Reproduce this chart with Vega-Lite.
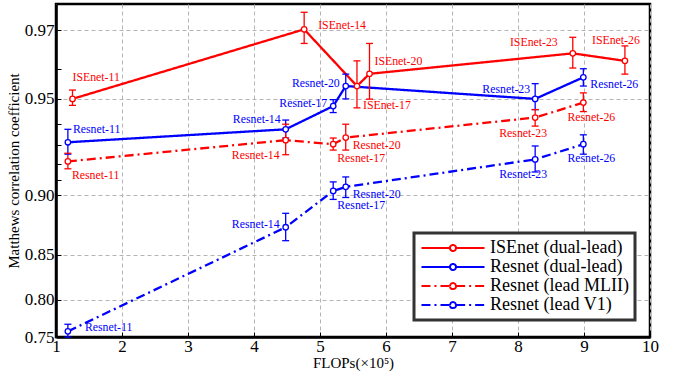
{
  "$schema": "https://vega.github.io/schema/vega-lite/v6.json",
  "width": 594,
  "height": 333,
  "autosize": "none",
  "padding": {"left": 56, "top": 4, "right": 30, "bottom": 38},
  "background": "white",
  "config": {
    "view": {"stroke": "black", "strokeWidth": 2.5},
    "font": "Liberation Serif, Times New Roman, serif",
    "axis": {
      "domainColor": "black", "domainWidth": 2.5,
      "tickColor": "black", "tickSize": -5, "tickWidth": 1,
      "labelFont": "Liberation Serif, Times New Roman, serif", "labelFontSize": 17, "labelColor": "black",
      "titleFont": "Liberation Serif, Times New Roman, serif", "titleFontSize": 15, "titleFontWeight": "normal", "titleColor": "black",
      "gridColor": "#b4b4b4", "gridDash": [4, 3], "gridWidth": 1
    },
    "text": {"font": "Liberation Serif, Times New Roman, serif", "fontSize": 11.8, "baseline": "middle"},
    "legend": {"strokeWidth": 3, "symbolFillColor": "white"}
  },
  "data": {"values": [
    {"series": "ISEnet (dual-lead)", "model": "ISEnet-11", "flops": 1.25, "mcc": 0.950, "lo": 0.9474, "hi": 0.9531},
    {"series": "ISEnet (dual-lead)", "model": "ISEnet-14", "flops": 4.76, "mcc": 0.9702, "lo": 0.9668, "hi": 0.9737},
    {"series": "ISEnet (dual-lead)", "model": "ISEnet-17", "flops": 5.56, "mcc": 0.9545, "lo": 0.9464, "hi": 0.9622},
    {"series": "ISEnet (dual-lead)", "model": "ISEnet-20", "flops": 5.75, "mcc": 0.9584, "lo": 0.9499, "hi": 0.9668},
    {"series": "ISEnet (dual-lead)", "model": "ISEnet-23", "flops": 8.83, "mcc": 0.9643, "lo": 0.9602, "hi": 0.9683},
    {"series": "ISEnet (dual-lead)", "model": "ISEnet-26", "flops": 9.62, "mcc": 0.9622, "lo": 0.9583, "hi": 0.9662},
    {"series": "Resnet (dual-lead)", "model": "Resnet-11", "flops": 1.18, "mcc": 0.9313, "lo": 0.9251, "hi": 0.9374},
    {"series": "Resnet (dual-lead)", "model": "Resnet-14", "flops": 4.48, "mcc": 0.9374, "lo": 0.9333, "hi": 0.9415},
    {"series": "Resnet (dual-lead)", "model": "Resnet-17", "flops": 5.20, "mcc": 0.9471, "lo": 0.9445, "hi": 0.9497},
    {"series": "Resnet (dual-lead)", "model": "Resnet-20", "flops": 5.39, "mcc": 0.9545, "lo": 0.9500, "hi": 0.9583},
    {"series": "Resnet (dual-lead)", "model": "Resnet-23", "flops": 8.26, "mcc": 0.9500, "lo": 0.9457, "hi": 0.9553},
    {"series": "Resnet (dual-lead)", "model": "Resnet-26", "flops": 8.99, "mcc": 0.9573, "lo": 0.9545, "hi": 0.9600},
    {"series": "Resnet (lead MLII)", "model": "Resnet-11", "flops": 1.18, "mcc": 0.9212, "lo": 0.9169, "hi": 0.9256},
    {"series": "Resnet (lead MLII)", "model": "Resnet-14", "flops": 4.48, "mcc": 0.9323, "lo": 0.9248, "hi": 0.9398},
    {"series": "Resnet (lead MLII)", "model": "Resnet-17", "flops": 5.20, "mcc": 0.9304, "lo": 0.9273, "hi": 0.9333},
    {"series": "Resnet (lead MLII)", "model": "Resnet-20", "flops": 5.39, "mcc": 0.9335, "lo": 0.9273, "hi": 0.9398},
    {"series": "Resnet (lead MLII)", "model": "Resnet-23", "flops": 8.26, "mcc": 0.9425, "lo": 0.9389, "hi": 0.9457},
    {"series": "Resnet (lead MLII)", "model": "Resnet-26", "flops": 8.99, "mcc": 0.9485, "lo": 0.9449, "hi": 0.9521},
    {"series": "Resnet (lead V1)", "model": "Resnet-11", "flops": 1.18, "mcc": 0.758, "lo": 0.7484, "hi": 0.768},
    {"series": "Resnet (lead V1)", "model": "Resnet-14", "flops": 4.48, "mcc": 0.8751, "lo": 0.8633, "hi": 0.8865},
    {"series": "Resnet (lead V1)", "model": "Resnet-17", "flops": 5.20, "mcc": 0.9029, "lo": 0.8970, "hi": 0.9089},
    {"series": "Resnet (lead V1)", "model": "Resnet-20", "flops": 5.39, "mcc": 0.9056, "lo": 0.8984, "hi": 0.9120},
    {"series": "Resnet (lead V1)", "model": "Resnet-23", "flops": 8.26, "mcc": 0.9223, "lo": 0.9150, "hi": 0.9295},
    {"series": "Resnet (lead V1)", "model": "Resnet-26", "flops": 8.99, "mcc": 0.9304, "lo": 0.9251, "hi": 0.9348}
  ]},
  "encoding": {
    "x": {
      "field": "flops", "type": "quantitative",
      "scale": {"domain": [1, 10], "nice": false, "zero": false},
      "axis": {"title": "FLOPs(×10⁵)", "values": [1, 2, 3, 4, 5, 6, 7, 8, 9, 10], "format": "d", "labelFlush": false, "labelOverlap": false, "labelPadding": 6, "titlePadding": 1}
    },
    "y": {
      "field": "mcc", "type": "quantitative",
      "title": "Matthews correlation coefficient",
      "scale": {
        "domain": [0.75, 0.77, 0.80, 0.82, 0.85, 0.87, 0.89, 0.90, 0.91, 0.92, 0.93, 0.94, 0.95, 0.955, 0.96, 0.965, 0.97, 0.9754],
        "range": [333, 318.85, 295.89, 279.12, 250.96, 229.49, 205.02, 191.28, 176.26, 159.66, 141.04, 119.78, 94.89, 80.61, 64.74, 46.85, 26.30, 0],
        "clamp": true, "nice": false, "zero": false
      },
      "axis": {
        "values": [0.75, 0.80, 0.85, 0.90, 0.91, 0.92, 0.93, 0.94, 0.95, 0.96, 0.97],
        "labelExpr": "(datum.value == 0.91 || datum.value == 0.92 || datum.value == 0.93 || datum.value == 0.94 || datum.value == 0.96) ? '' : format(datum.value, '.2f')",
        "gridOpacity": {"condition": {"test": "datum.value == 0.91 || datum.value == 0.92 || datum.value == 0.93 || datum.value == 0.94 || datum.value == 0.96", "value": 0}, "value": 1},
        "labelPadding": 7, "titlePadding": 3, "labelOverlap": false
      }
    },
    "color": {
      "field": "series", "type": "nominal",
      "scale": {"domain": ["ISEnet (dual-lead)", "Resnet (dual-lead)", "Resnet (lead MLII)", "Resnet (lead V1)"], "range": ["#ff0000", "#0000ff", "#ff0000", "#0000ff"]},
      "legend": null
    }
  },
  "layer": [
    {
      "mark": {"type": "line", "strokeWidth": 2.3},
      "encoding": {
        "color": null,
        "stroke": {
          "field": "series", "type": "nominal",
          "scale": {"domain": ["ISEnet (dual-lead)", "Resnet (dual-lead)", "Resnet (lead MLII)", "Resnet (lead V1)"], "range": ["#ff0000", "#0000ff", "#ff0000", "#0000ff"]},
          "legend": {
            "title": null, "orient": "none", "legendX": 358, "legendY": 229,
            "symbolType": "M-5,0H-0.5M0.5,0H5M0.5,0A0.5,0.5,0,1,1,-0.5,0A0.5,0.5,0,1,1,0.5,0ZM0.46,0A0.46,0.46,0,1,0,-0.46,0A0.46,0.46,0,1,0,0.46,0Z",
            "symbolSize": 159, "symbolStrokeWidth": 1.8, "symbolFillColor": "white",
            "symbolOffset": 24, "labelOffset": 28,
            "labelFont": "Liberation Serif, Times New Roman, serif", "labelFontSize": 18, "labelColor": "black",
            "padding": 6, "rowPadding": 1, "strokeColor": "#333333", "fillColor": "white"
          }
        },
        "strokeDash": {
          "field": "series", "type": "nominal",
          "scale": {"domain": ["ISEnet (dual-lead)", "Resnet (dual-lead)", "Resnet (lead MLII)", "Resnet (lead V1)"], "range": [[1, 0], [1, 0], [9, 4, 2, 4], [9, 4, 2, 4]]},
          "legend": {"title": null, "symbolFillColor": "white"}
        }
      }
    },
    {
      "mark": {"type": "rule", "strokeWidth": 1.3},
      "encoding": {
        "y": {"field": "lo", "type": "quantitative", "title": "Matthews correlation coefficient"},
        "y2": {"field": "hi"}
      }
    },
    {
      "mark": {"type": "point", "shape": "stroke", "filled": false, "size": 49, "strokeWidth": 1.3, "opacity": 1},
      "encoding": {
        "y": {"field": "lo", "type": "quantitative", "title": "Matthews correlation coefficient"}
      }
    },
    {
      "mark": {"type": "point", "shape": "stroke", "filled": false, "size": 49, "strokeWidth": 1.3, "opacity": 1},
      "encoding": {
        "y": {"field": "hi", "type": "quantitative", "title": "Matthews correlation coefficient"}
      }
    },
    {
      "mark": {"type": "point", "shape": "circle", "filled": false, "fill": "white", "fillOpacity": 1, "opacity": 1, "size": 30, "strokeWidth": 1.3}
    },
    {
      "encoding": {"text": {"field": "model"}},
      "layer": [
        {
          "transform": [{"filter": "indexof(['ISEnet (dual-lead)|ISEnet-11'], datum.series + '|' + datum.model) >= 0"}],
          "mark": {"type": "text", "align": "left", "dx": 0, "dy": -22}
        },
        {
          "transform": [{"filter": "indexof(['ISEnet (dual-lead)|ISEnet-14'], datum.series + '|' + datum.model) >= 0"}],
          "mark": {"type": "text", "align": "left", "dx": 14, "dy": -4}
        },
        {
          "transform": [{"filter": "indexof(['ISEnet (dual-lead)|ISEnet-17'], datum.series + '|' + datum.model) >= 0"}],
          "mark": {"type": "text", "align": "left", "dx": 6, "dy": 19}
        },
        {
          "transform": [{"filter": "indexof(['ISEnet (dual-lead)|ISEnet-20', 'Resnet (dual-lead)|Resnet-11'], datum.series + '|' + datum.model) >= 0"}],
          "mark": {"type": "text", "align": "left", "dx": 5, "dy": -13}
        },
        {
          "transform": [{"filter": "indexof(['ISEnet (dual-lead)|ISEnet-23'], datum.series + '|' + datum.model) >= 0"}],
          "mark": {"type": "text", "align": "right", "dx": -15, "dy": -11}
        },
        {
          "transform": [{"filter": "indexof(['ISEnet (dual-lead)|ISEnet-26'], datum.series + '|' + datum.model) >= 0"}],
          "mark": {"type": "text", "align": "center", "dx": -9, "dy": -21}
        },
        {
          "transform": [{"filter": "indexof(['Resnet (dual-lead)|Resnet-14', 'Resnet (dual-lead)|Resnet-23'], datum.series + '|' + datum.model) >= 0"}],
          "mark": {"type": "text", "align": "right", "dx": -5, "dy": -10}
        },
        {
          "transform": [{"filter": "indexof(['Resnet (dual-lead)|Resnet-17', 'Resnet (dual-lead)|Resnet-20', 'Resnet (lead V1)|Resnet-14'], datum.series + '|' + datum.model) >= 0"}],
          "mark": {"type": "text", "align": "right", "dx": -6, "dy": -3}
        },
        {
          "transform": [{"filter": "indexof(['Resnet (lead MLII)|Resnet-14'], datum.series + '|' + datum.model) >= 0"}],
          "mark": {"type": "text", "align": "right", "dx": -6, "dy": 15}
        },
        {
          "transform": [{"filter": "indexof(['Resnet (lead MLII)|Resnet-23', 'Resnet (lead V1)|Resnet-23'], datum.series + '|' + datum.model) >= 0"}],
          "mark": {"type": "text", "align": "center", "dx": -12, "dy": 15}
        },
        {
          "transform": [{"filter": "indexof(['Resnet (lead MLII)|Resnet-26', 'Resnet (lead V1)|Resnet-26'], datum.series + '|' + datum.model) >= 0"}],
          "mark": {"type": "text", "align": "center", "dx": 8, "dy": 14}
        },
        {
          "transform": [{"filter": "indexof(['Resnet (lead MLII)|Resnet-11', 'Resnet (lead MLII)|Resnet-17', 'Resnet (lead V1)|Resnet-17'], datum.series + '|' + datum.model) >= 0"}],
          "mark": {"type": "text", "align": "left", "dx": 4, "dy": 14}
        },
        {
          "transform": [{"filter": "indexof(['Resnet (dual-lead)|Resnet-26', 'Resnet (lead MLII)|Resnet-20', 'Resnet (lead V1)|Resnet-20'], datum.series + '|' + datum.model) >= 0"}],
          "mark": {"type": "text", "align": "left", "dx": 7, "dy": 7}
        },
        {
          "transform": [{"filter": "indexof(['Resnet (lead V1)|Resnet-11'], datum.series + '|' + datum.model) >= 0"}],
          "mark": {"type": "text", "align": "left", "dx": 17, "dy": -4}
        }
      ]
    }
  ]
}
